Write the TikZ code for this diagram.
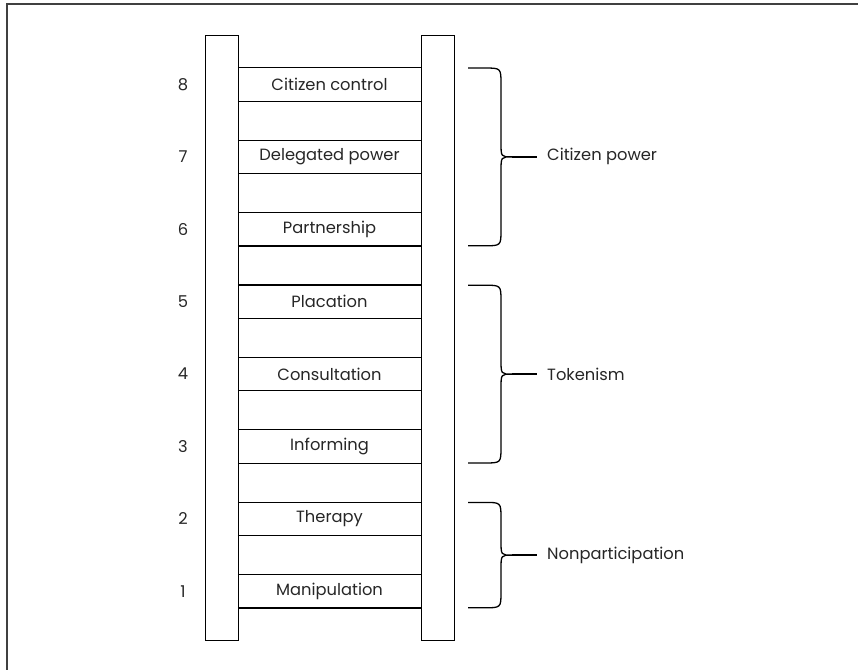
\documentclass[tikz,border=0pt]{standalone}
\usepackage{fontspec}
\setmainfont{Poppins}
\begin{document}
\begin{tikzpicture}[x=1pt, y=-1pt,
    rail/.style={draw, line width=1.1pt, minimum width=33pt, minimum height=605pt,
                 inner sep=0pt, anchor=north west},
    rung/.style={minimum width=183pt, minimum height=33pt,
                 inner sep=0pt, text=black!85, font=\fontsize{16.3}{19}\selectfont},
    num/.style={font=\fontsize{16.3}{19}\selectfont, text=black!85, inner sep=0pt},
    brace/.style={line width=1.3pt},
    group/.style={anchor=west, inner xsep=10pt, inner ysep=0pt, text=black!85,
                  font=\fontsize{16.3}{19}\selectfont}]
    \useasboundingbox (0,0) rectangle (858,669);

    % Frame, only its left and top sides show
    \draw[line width=2pt, black!75] (7,690) -- (7,4) -- (880,4);

    % The two rails of the ladder
    \node[rail] (lrail) at (205,35) {};
    \node[rail] (rrail) at (421,35) {};

    % Rungs with their numbers, 8 at the top
    \foreach \k/\t in {8/Citizen control, 7/Delegated power, 6/Partnership,
                       5/Placation, 4/Consultation, 3/Informing,
                       2/Therapy, 1/Manipulation} {
        \pgfmathsetmacro{\ry}{84.5+(8-\k)*72.4}
        \node[rung] (r\k) at (329.5,\ry) {\t};
        \draw[line width=1.1pt] (r\k.north west) -- (r\k.north east)
                                (r\k.south west) -- (r\k.south east);
        \node[num] (n\k) at (183,\ry) {\k};
    }

    % Braces grouping the rungs
    \foreach \a/\b/\g/\t in {8/6/cp/Citizen power, 5/3/tk/Tokenism,
                             2/1/np/Nonparticipation} {
        \pgfmathsetmacro{\top}{68+(8-\a)*72.4}
        \pgfmathsetmacro{\bot}{101+(8-\b)*72.4}
        \pgfmathsetmacro{\mid}{(\top+\bot)/2}
        \draw[brace] (468,\top) -- (484,\top) .. controls (501,\top) .. (501,\top+16)
            -- (501,\mid-14) .. controls (501,\mid) .. (512,\mid)
            .. controls (501,\mid) .. (501,\mid+14) -- (501,\bot-16)
            .. controls (501,\bot) .. (484,\bot) -- (468,\bot);
        \coordinate (tip\g) at (512,\mid);
        \node[group] (\g) at (537,\mid) {\t};
        \draw[brace] (tip\g) -- (\g.west);
    }
\end{tikzpicture}
\end{document}
